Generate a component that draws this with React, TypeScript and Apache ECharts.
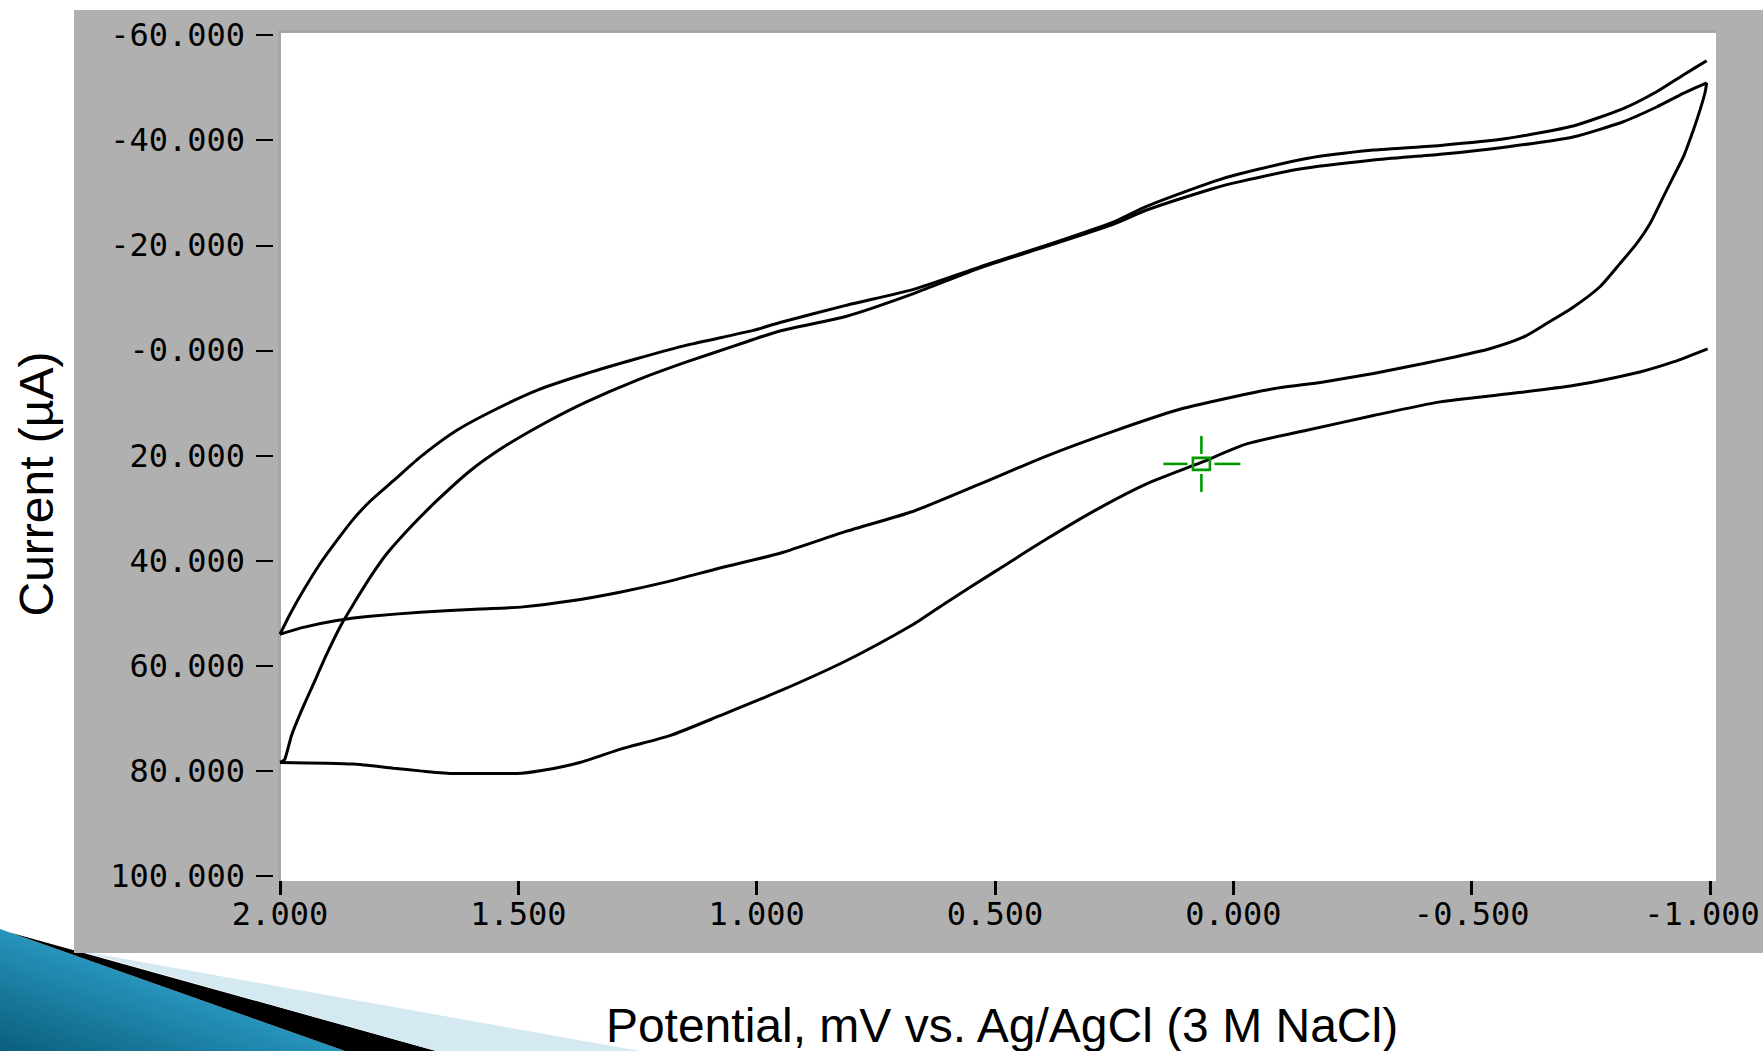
import React, { useEffect, useRef } from "react";
import * as echarts from "echarts";

// ---- axis ticks ----
const xTickValues = [2, 1.5, 1, 0.5, 0, -0.5, -1];
const xTickLabels = ["2.000", "1.500", "1.000", "0.500", "0.000", "-0.500", "-1.000"];
const yTickValues = [-60, -40, -20, 0, 20, 40, 60, 80, 100];
const yTickLabels = ["-60.000", "-40.000", "-20.000", "-0.000", "20.000", "40.000", "60.000", "80.000", "100.000"];

const xTitle = "Potential, mV vs. Ag/AgCl (3 M NaCl)";
const yTitle = "Current (µA)";

// ---- sweep 1: -1.0 -> 2.0 (lower branch) ----
const sweep1Potential = [-0.995, -0.923, -0.853, -0.713, -0.573, -0.434, -0.294, -0.154, -0.028, 0.067, 0.182, 0.287, 0.392, 0.497, 0.601, 0.671, 0.811, 0.951, 1.077, 1.182, 1.287, 1.371, 1.448, 1.503, 1.636, 1.706, 1.762, 1.846, 2.0];
const sweep1Current = [-0.3, 2.2, 4.1, 6.7, 8.3, 9.8, 12.4, 15.2, 17.8, 21.3, 25.4, 30.3, 35.9, 41.9, 47.9, 52.1, 59.0, 64.8, 69.5, 73.3, 75.9, 78.4, 79.9, 80.5, 80.5, 80.0, 79.5, 78.7, 78.4];

// ---- sweep 2: 2.0 -> -1.0 (inner upper branch) ----
const sweep2Potential = [2.0, 1.99, 1.976, 1.958, 1.93, 1.902, 1.871, 1.846, 1.811, 1.776, 1.727, 1.671, 1.601, 1.531, 1.448, 1.357, 1.252, 1.147, 1.042, 0.951, 0.811, 0.671, 0.531, 0.392, 0.252, 0.182, 0.042, -0.014, -0.133, -0.294, -0.434, -0.573, -0.713, -0.818, -0.888, -0.944, -0.993];
const sweep2Current = [78.4, 77.8, 73.3, 69.2, 63.5, 57.8, 52.1, 48.3, 43.2, 38.7, 33.7, 28.6, 22.9, 18.4, 14.0, 9.8, 5.7, 2.2, -1.0, -3.7, -6.5, -10.8, -15.7, -19.8, -24.0, -26.7, -30.8, -32.1, -34.4, -36.2, -37.3, -38.7, -40.6, -43.5, -46.3, -48.9, -50.9];

// ---- sweep 3: -1.0 -> 2.0 (return, middle branch) ----
const sweep3Potential = [-0.993, -0.99, -0.979, -0.965, -0.944, -0.923, -0.902, -0.874, -0.846, -0.811, -0.769, -0.713, -0.657, -0.608, -0.538, -0.462, -0.399, -0.294, -0.189, -0.084, -0.028, 0.112, 0.252, 0.392, 0.531, 0.671, 0.811, 0.951, 1.077, 1.182, 1.287, 1.392, 1.49, 1.58, 1.706, 1.811, 1.881, 1.951, 2.0];
const sweep3Current = [-50.9, -49.2, -45.7, -41.9, -36.8, -33.0, -29.2, -24.1, -20.3, -16.5, -12.1, -8.2, -5.1, -2.5, -0.3, 1.3, 2.5, 4.4, 6.0, 7.3, 8.3, 11.2, 15.4, 20.1, 25.4, 30.6, 34.4, 38.6, 41.4, 43.9, 46.0, 47.7, 48.8, 49.2, 49.8, 50.6, 51.4, 52.7, 54.0];

// ---- sweep 4: 2.0 -> -1.0 (outer upper branch) ----
const sweep4Potential = [2.0, 1.979, 1.951, 1.916, 1.881, 1.846, 1.811, 1.762, 1.706, 1.629, 1.545, 1.461, 1.357, 1.252, 1.147, 1.007, 0.951, 0.811, 0.671, 0.531, 0.392, 0.252, 0.182, 0.042, -0.014, -0.154, -0.294, -0.434, -0.573, -0.713, -0.818, -0.888, -0.944, -0.993];
const sweep4Current = [54.0, 50.2, 45.7, 40.6, 36.2, 32.1, 28.7, 24.8, 20.3, 15.2, 11.1, 7.6, 4.4, 1.6, -1.0, -3.8, -5.3, -8.6, -11.6, -15.9, -20.0, -24.4, -27.4, -32.1, -33.6, -36.5, -38.1, -39.0, -40.3, -42.7, -46.0, -49.2, -52.4, -55.1];

// cursor (crosshair) position in data units
const cursorPoint = [0.067, 21.6];

const sweeps = [
  [sweep1Potential, sweep1Current],
  [sweep2Potential, sweep2Current],
  [sweep3Potential, sweep3Current],
  [sweep4Potential, sweep4Current],
];

const W = 1763;
const H = 1051;

function labelIndex(values: number[], v: number) {
  for (let i = 0; i < values.length; i++) {
    if (Math.abs(values[i] - v) < 1e-6) return i;
  }
  return -1;
}

export default function App() {
  const ref = useRef<HTMLDivElement>(null);

  useEffect(() => {
    document.body.style.margin = "0";
    if (!ref.current) return;
    const chart = echarts.init(ref.current, undefined, { renderer: "svg", width: W, height: H });

    const tickFont = { color: "#000", fontFamily: "DejaVu Sans Mono", fontSize: 32 };
    const green = "#009a00";

    const lineSeries = sweeps.map(([xs, ys], i) => ({
      type: "line",
      name: "sweep" + (i + 1),
      data: xs.map((x, k) => [x, ys[k]]),
      showSymbol: false,
      symbol: "none",
      smooth: 0.2,
      lineStyle: { color: "#000", width: 3 },
      z: 3,
      silent: true,
    }));

    const option: any = {
      animation: false,
      backgroundColor: "#fff",
      grid: { left: 280, right: 53, top: 35, bottom: 175, outerBoundsMode: "none", containLabel: false },
      xAxis: {
        type: "value",
        inverse: true,
        min: -1,
        max: 2,
        interval: 0.5,
        offset: 5,
        axisLine: { show: false, onZero: false },
        axisTick: { show: true, length: 14, lineStyle: { color: "#000", width: 3 } },
        splitLine: { show: false },
        axisLabel: {
          ...tickFont,
          margin: 17,
          formatter: (v: number) => {
            const i = labelIndex(xTickValues, v);
            if (i < 0) return "";
            return i === xTickValues.length - 1 ? "{last|" + xTickLabels[i] + "}" : xTickLabels[i];
          },
          rich: {
            last: { ...tickFont, padding: [0, 16, 0, 0] },
          },
        },
      },
      yAxis: {
        type: "value",
        inverse: true,
        min: -60,
        max: 100,
        interval: 20,
        offset: 7,
        axisLine: { show: false, onZero: false },
        axisTick: { show: true, length: 17, lineStyle: { color: "#000", width: 2 } },
        splitLine: { show: false },
        axisLabel: {
          ...tickFont,
          margin: 28,
          formatter: (v: number) => {
            const i = labelIndex(yTickValues, v);
            return i < 0 ? "" : yTickLabels[i];
          },
        },
      },
      graphic: [
        {
          type: "polygon",
          z: -120,
          silent: true,
          shape: { points: [[0, 929], [345, 1051], [0, 1051]] },
          style: {
            fill: new echarts.graphic.LinearGradient(0, 1, 1, 0, [
              { offset: 0, color: "#0a5f7c" },
              { offset: 0.55, color: "#2a98c2" },
              { offset: 1, color: "#74cdee" },
            ]),
          },
        },
        {
          type: "polygon",
          z: -119,
          silent: true,
          shape: { points: [[10, 932.5], [436, 1051], [345, 1051]] },
          style: { fill: "#000" },
        },
        {
          type: "polygon",
          z: -119,
          silent: true,
          shape: { points: [[80, 951], [640, 1051], [436, 1051]] },
          style: { fill: "#d5e9f2" },
        },
        {
          type: "rect",
          z: -100,
          silent: true,
          shape: { x: 74, y: 10, width: W - 74, height: 943 },
          style: { fill: "#b0b0b0" },
        },
        {
          type: "rect",
          z: -99,
          silent: true,
          shape: { x: 278, y: 30, width: 1438, height: 851 },
          style: { fill: "#a7a7a7" },
        },
        {
          type: "rect",
          z: -98,
          silent: true,
          shape: { x: 281, y: 33, width: 1435, height: 848 },
          style: { fill: "#ffffff" },
        },
        {
          type: "text",
          z: 10,
          x: 36,
          y: 484,
          rotation: Math.PI / 2,
          style: {
            text: yTitle,
            fill: "#000",
            font: '48px "Liberation Sans", Arial, sans-serif',
            align: "center",
            verticalAlign: "middle",
          },
        },
        {
          type: "text",
          z: 10,
          x: 1002,
          y: 1025,
          style: {
            text: xTitle,
            fill: "#000",
            font: '48px "Liberation Sans", Arial, sans-serif',
            align: "center",
            verticalAlign: "middle",
          },
        },
      ],
      series: [
        ...lineSeries,
        {
          type: "custom",
          name: "cursor",
          silent: true,
          z: 5,
          data: [cursorPoint],
          renderItem: (params: any, api: any) => {
            const p = api.coord([api.value(0), api.value(1)]);
            const cx = p[0];
            const cy = p[1];
            const st = { stroke: green, lineWidth: 2.6, fill: "none" };
            return {
              type: "group",
              children: [
                { type: "rect", shape: { x: cx - 8.5, y: cy - 6, width: 17, height: 12 }, style: st },
                { type: "line", shape: { x1: cx - 38, y1: cy, x2: cx - 14, y2: cy }, style: st },
                { type: "line", shape: { x1: cx + 13, y1: cy, x2: cx + 39, y2: cy }, style: st },
                { type: "line", shape: { x1: cx, y1: cy - 28, x2: cx, y2: cy - 10 }, style: st },
                { type: "line", shape: { x1: cx, y1: cy + 10, x2: cx, y2: cy + 28 }, style: st },
              ],
            };
          },
        },
      ],
    };

    chart.setOption(option);
    return () => chart.dispose();
  }, []);

  return (
    <div
      ref={ref}
      style={{ position: "absolute", left: 0, top: 0, width: W, height: H }}
    />
  );
}
